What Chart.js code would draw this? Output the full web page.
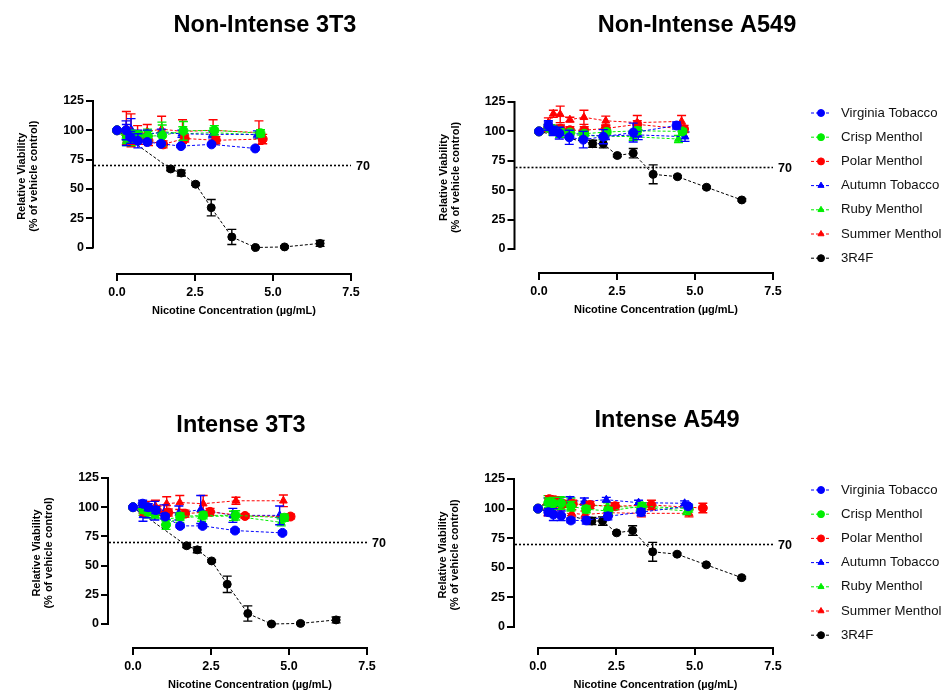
<!DOCTYPE html>
<html lang="en">
<head>
  <meta charset="UTF-8">
  <title>Relative Viability</title>
  <script src="https://cdn.jsdelivr.net/npm/chart.js@4.4.2/dist/chart.umd.min.js"></script>
  <style>
    body { margin: 0; background: #fff; width: 951px; height: 693px; position: relative; overflow: hidden; }
    canvas { position: absolute; }
  </style>
</head>
<body>
  <canvas id="c1" width="400" height="335" style="left:0;top:0"></canvas>
  <canvas id="c2" width="551" height="335" style="left:400px;top:0"></canvas>
  <canvas id="c3" width="400" height="353" style="left:0;top:340px"></canvas>
  <canvas id="c4" width="551" height="353" style="left:400px;top:340px"></canvas>
  <script>
    // ---- data ----
    const seriesNames = ['Virginia Tobacco', 'Crisp Menthol', 'Polar Menthol', 'Autumn Tobacco', 'Ruby Menthol', 'Summer Menthol', '3R4F'];
    const xTicks = [0, 2.5, 5, 7.5];
    const yTicks = [0, 25, 50, 75, 100, 125];
    const threshold = 70;

    // rows follow seriesNames (first six products)
    const nonIntense3T3Dose = [
      [0, 0.29, 0.44, 0.67, 0.97, 1.41, 2.05, 3.03, 4.43],
      [0, 0.31, 0.46, 0.68, 0.99, 1.45, 2.13, 3.12, 4.60],
      [0, 0.32, 0.47, 0.69, 1.01, 1.48, 2.17, 3.17, 4.67],
      [0, 0.30, 0.45, 0.66, 0.97, 1.42, 2.08, 3.06, 4.50],
      [0, 0.31, 0.46, 0.67, 0.98, 1.44, 2.11, 3.10, 4.56],
      [0, 0.30, 0.45, 0.66, 0.97, 1.43, 2.10, 3.08, 4.55]
    ];
    const nonIntense3T3Viab = [
      [100, 100, 94, 91, 90, 88.5, 86.5, 88, 84.5],
      [100, 93, 95, 96, 95, 95.5, 99.5, 100, 97.5],
      [100, 96, 93, 92, 91, 88, 93, 91.5, 92.5],
      [100, 96, 101, 96, 97, 98, 97, 96.5, 96.5],
      [100, 91, 92, 95, 96, 99, 97, 98, 96],
      [100, 102, 100, 97, 99, 101, 99, 100, 98]
    ];
    const nonIntense3T3Sem = [
      [0, 8, 5, 6, 2, 1.5, 1, 1, 1],
      [0, 4, 5, 3, 4, 9, 8, 4, 3],
      [0, 6, 5, 4, 4, 3, 3, 3, 4],
      [0, 9, 9, 4, 3, 3, 3, 3, 3],
      [0, 4, 5, 4, 5, 8, 6, 4, 3],
      [0, 14, 14, 7, 6, 11, 10, 9, 10]
    ];

    const nonIntenseA549Dose = [
      [0, 0.30, 0.46, 0.65, 0.97, 1.42, 2.06, 3.02, 4.41],
      [0, 0.30, 0.46, 0.68, 0.99, 1.45, 2.17, 3.15, 4.60],
      [0, 0.30, 0.46, 0.69, 0.99, 1.45, 2.14, 3.15, 4.65],
      [0, 0.30, 0.46, 0.68, 0.99, 1.45, 2.13, 3.18, 4.68],
      [0, 0.29, 0.44, 0.66, 0.96, 1.40, 2.06, 3.02, 4.47],
      [0, 0.30, 0.46, 0.68, 0.99, 1.44, 2.14, 3.15, 4.57]
    ];
    const nonIntenseA549Viab = [
      [100, 105, 100.5, 98.5, 95, 93, 95.5, 99, 105],
      [100, 103, 102, 100, 99, 98, 99.5, 100.5, 100],
      [100, 103, 102, 102.5, 101, 101, 102.5, 106, 102],
      [100, 104, 101, 100, 99, 97, 96, 97, 95.5],
      [100, 103, 100, 98, 97.5, 96.5, 96, 95.5, 93.5],
      [100, 107.5, 115, 114.5, 110, 112, 109, 107.5, 108.5]
    ];
    const nonIntenseA549Sem = [
      [0, 4, 4, 5, 6, 7, 6, 8, 3],
      [0, 2, 2, 2, 2, 2, 2, 3, 2],
      [0, 3, 3, 3, 3, 3, 3, 3, 3],
      [0, 4, 3, 3, 3, 3, 3, 4, 4],
      [0, 3, 3, 3, 3, 3, 3, 3, 3],
      [0, 4, 3, 7, 2, 6, 4, 6, 5]
    ];

    const intense3T3Dose = [
      [0, 0.31, 0.49, 0.73, 1.03, 1.51, 2.23, 3.27, 4.79],
      [0, 0.33, 0.49, 0.71, 1.06, 1.51, 2.25, 3.29, 4.85],
      [0, 0.35, 0.52, 0.77, 1.13, 1.67, 2.47, 3.59, 5.05],
      [0, 0.32, 0.47, 0.70, 1.00, 1.47, 2.17, 3.20, 4.70],
      [0, 0.32, 0.48, 0.70, 1.04, 1.50, 2.20, 3.22, 4.75],
      [0, 0.32, 0.48, 0.72, 1.08, 1.50, 2.25, 3.30, 4.82]
    ];
    const intense3T3Viab = [
      [100, 103, 100, 97.5, 92, 84, 84, 80, 78],
      [100, 98, 96, 95, 85, 92, 93, 93, 91],
      [100, 96, 97, 97, 95.5, 94.5, 96, 92.5, 92],
      [100, 93, 97, 97, 96, 95, 98, 93, 93],
      [100, 96, 95, 94, 90, 91, 92, 92.5, 87],
      [100, 98, 100, 101, 103, 104, 103, 105.5, 105.5]
    ];
    const intense3T3Sem = [
      [0, 3, 3, 3, 2, 1.5, 1.5, 1.5, 1.5],
      [0, 3, 3, 4, 4, 3, 3, 4, 3],
      [0, 3, 4, 4, 3, 3, 3, 2, 2],
      [0, 5, 6, 8, 6, 6, 12, 6, 8],
      [0, 3, 4, 4, 5, 4, 4, 4, 3],
      [0, 3, 5, 5, 6, 6, 7, 3, 5]
    ];

    const intenseA549Dose = [
      [0, 0.33, 0.49, 0.74, 1.05, 1.54, 2.23, 3.29, 4.79],
      [0, 0.33, 0.49, 0.74, 1.05, 1.54, 2.25, 3.32, 4.81],
      [0, 0.36, 0.54, 0.78, 1.11, 1.66, 2.46, 3.62, 5.26],
      [0, 0.32, 0.47, 0.69, 1.02, 1.48, 2.18, 3.21, 4.68],
      [0, 0.32, 0.48, 0.71, 1.05, 1.52, 2.22, 3.26, 4.75],
      [0, 0.32, 0.48, 0.72, 1.08, 1.50, 2.25, 3.30, 4.82]
    ];
    const intenseA549Viab = [
      [100, 97, 95, 94, 90, 90, 93.5, 97, 102],
      [100, 105, 104.5, 104.5, 102, 99.5, 98, 102, 100],
      [100, 108, 107, 104, 104, 103, 102, 103, 100.5],
      [100, 106, 106, 105, 107, 106, 107.5, 105, 104.5],
      [100, 107, 106, 105, 104, 103, 102, 101, 98],
      [100, 97, 98, 96, 96, 95, 96.5, 96, 96]
    ];
    const intenseA549Sem = [
      [0, 3, 5, 4, 2, 3, 3, 3, 2],
      [0, 4, 5, 5, 4, 3, 3, 3, 3],
      [0, 3, 3, 3, 3, 3, 3, 4, 4],
      [0, 3, 3, 3, 3, 3, 2, 2, 2],
      [0, 4, 4, 5, 5, 3, 3, 3, 3],
      [0, 3, 3, 3, 3, 3, 3, 3, 3]
    ];

    // 3R4F reference cigarette, same in both 3T3 panels / both A549 panels
    const ref3T3Dose = [0, 1.72, 2.06, 2.52, 3.02, 3.68, 4.44, 5.37, 6.51];
    const ref3T3Viab = [100, 67, 63.5, 54, 34, 9, 0, 0.5, 3.5];
    const ref3T3Sem = [0, 1.5, 2.5, 1, 7, 6.5, 0.5, 1, 2.5];
    const refA549Dose = [0, 1.72, 2.06, 2.51, 3.02, 3.66, 4.44, 5.37, 6.50];
    const refA549Viab = [100, 89.5, 89.5, 79.5, 81.5, 63.5, 61.5, 52.5, 41.7];
    const refA549Sem = [0, 3, 3.5, 1, 4, 8, 1, 1, 1];

    // ---- styles / layout ----
    const seriesColors = ['#0000ff', '#00ee00', '#ff0000', '#0000ff', '#00ee00', '#ff0000', '#000000'];
    const seriesMarkers = ['circle', 'circle', 'circle', 'triangle', 'triangle', 'triangle', 'circle'];
    const FONT = "'Liberation Sans', Arial, Helvetica, sans-serif";
    const Y_W = 80, X_H = 30;
    Chart.defaults.font.family = FONT;
    Chart.defaults.color = '#000';

    // page coordinates of the axes for each panel
    const panels = [
      { id: 'c1', left: 0, top: 0, w: 400, h: 335, axisX: 93, x0: 117, x75: 351, y125: 101, y0: 247.5, axisY: 274,
        title: 'Non-Intense 3T3', titleX: 265, titleY: 26, legendY: null },
      { id: 'c2', left: 400, top: 0, w: 551, h: 335, axisX: 514.5, x0: 539, x75: 773, y125: 102, y0: 249, axisY: 273,
        title: 'Non-Intense A549', titleX: 697, titleY: 26, legendY: 113 },
      { id: 'c3', left: 0, top: 340, w: 400, h: 353, axisX: 108, x0: 133, x75: 367, y125: 478, y0: 624, axisY: 648,
        title: 'Intense 3T3', titleX: 241, titleY: 426, legendY: null },
      { id: 'c4', left: 400, top: 340, w: 551, h: 353, axisX: 514, x0: 538, x75: 773, y125: 479, y0: 627, axisY: 648,
        title: 'Intense A549', titleX: 667, titleY: 421, legendY: 490 }
    ];

    function decor(p) {
      return {
        id: 'panelDecor',
        beforeDatasetsDraw(chart) {
          const { ctx, chartArea, scales: { x, y } } = chart;
          ctx.save();
          ctx.strokeStyle = '#000';
          ctx.lineWidth = 2;
          ctx.beginPath();
          ctx.moveTo(chartArea.left, y.getPixelForValue(0) + 1);
          ctx.lineTo(chartArea.left, y.getPixelForValue(125) - 1);
          ctx.moveTo(x.getPixelForValue(0) - 1, chartArea.bottom);
          ctx.lineTo(x.getPixelForValue(7.5) + 1, chartArea.bottom);
          ctx.stroke();
          // 70% line
          const ty = Math.round(y.getPixelForValue(threshold)) + 0.5;
          ctx.lineWidth = 1.6;
          ctx.setLineDash([2, 2]);
          ctx.beginPath();
          ctx.moveTo(chartArea.left + 1, ty);
          ctx.lineTo(x.getPixelForValue(7.5), ty);
          ctx.stroke();
          ctx.setLineDash([]);
          ctx.fillStyle = '#000';
          ctx.font = 'bold 12.5px ' + FONT;
          ctx.textAlign = 'left';
          ctx.textBaseline = 'middle';
          ctx.fillText(String(threshold), x.getPixelForValue(7.5) + 5, ty + 1);
          ctx.restore();
        },
        beforeDatasetDraw(chart, args) {
          const ds = chart.data.datasets[args.index];
          const { ctx, scales: { y } } = chart;
          ctx.save();
          ctx.strokeStyle = ds.borderColor;
          ctx.lineWidth = 1.4;
          args.meta.data.forEach((pt, k) => {
            const e = ds.errors[k];
            if (!e) return;
            const v = ds.data[k].y;
            const t = y.getPixelForValue(v + e), b = y.getPixelForValue(v - e);
            ctx.beginPath();
            ctx.moveTo(pt.x, t); ctx.lineTo(pt.x, b);
            ctx.moveTo(pt.x - 4.5, t); ctx.lineTo(pt.x + 4.5, t);
            ctx.moveTo(pt.x - 4.5, b); ctx.lineTo(pt.x + 4.5, b);
            ctx.stroke();
          });
          ctx.restore();
        },
        afterDraw(chart) {
          const { ctx, chartArea, scales: { x, y } } = chart;
          ctx.save();
          ctx.fillStyle = '#000';
          ctx.textAlign = 'center';
          ctx.textBaseline = 'middle';
          ctx.font = 'bold 23.5px ' + FONT;
          ctx.fillText(p.title, p.titleX - p.left, p.titleY - p.top);
          ctx.font = 'bold 11px ' + FONT;
          ctx.fillText('Nicotine Concentration (\u00b5g/mL)', x.getPixelForValue(3.75), chartArea.bottom + 37);
          const cy = (y.getPixelForValue(0) + y.getPixelForValue(125)) / 2 + 2;
          ctx.save();
          ctx.translate(chartArea.left - 71, cy);
          ctx.rotate(-Math.PI / 2);
          ctx.fillText('Relative Viability', 0, 0);
          ctx.restore();
          ctx.save();
          ctx.translate(chartArea.left - 59, cy);
          ctx.rotate(-Math.PI / 2);
          ctx.fillText('(% of vehicle control)', 0, 0);
          ctx.restore();

          if (p.legendY !== null) {
            chart.data.datasets.forEach((ds, i) => {
              const ly = p.legendY - p.top + i * 24.2;
              const lx = 811 - p.left;
              ctx.strokeStyle = ds.borderColor;
              ctx.fillStyle = ds.borderColor;
              ctx.lineWidth = 1;
              ctx.setLineDash([3, 2]);
              ctx.beginPath();
              ctx.moveTo(lx, ly); ctx.lineTo(lx + 20, ly);
              ctx.stroke();
              ctx.setLineDash([]);
              Chart.helpers.drawPoint(ctx, { pointStyle: ds.pointStyle, radius: 3.5, borderWidth: 1, rotation: 0 }, lx + 10, ly);
              ctx.fillStyle = '#111';
              ctx.font = '13.2px ' + FONT;
              ctx.textAlign = 'left';
              ctx.fillText(ds.label, 841 - p.left, ly);
            });
          }
          ctx.restore();
        }
      };
    }

    function makeChart(p, dose, viab, sem) {
      const pxX = (p.x75 - p.x0) / 7.5;
      const pxY = (p.y0 - p.y125) / 125;
      const datasets = seriesNames.map((name, i) => ({
        label: name,
        data: dose[i].map((d, k) => ({ x: d, y: viab[i][k] })),
        errors: sem[i],
        showLine: true,
        borderColor: seriesColors[i],
        backgroundColor: seriesColors[i],
        borderWidth: 1,
        borderDash: [3, 2],
        pointStyle: seriesMarkers[i],
        pointRadius: i === 6 ? 4 : 4.5,
        pointBorderWidth: 1,
        clip: false
      }));
      const tickFont = { size: 12.5, weight: 'bold' };
      new Chart(document.getElementById(p.id), {
        type: 'scatter',
        data: { datasets },
        options: {
          responsive: false,
          animation: false,
          events: [],
          layout: {
            padding: {
              left: p.axisX - p.left - Y_W,
              right: p.left + p.w - p.x75,
              top: p.y125 - p.top,
              bottom: p.top + p.h - p.axisY - X_H
            }
          },
          scales: {
            x: {
              type: 'linear',
              min: -(p.x0 - p.axisX) / pxX,
              max: 7.5,
              afterBuildTicks: s => { s.ticks = xTicks.map(v => ({ value: v })); },
              afterFit: s => { s.height = X_H; },
              ticks: { callback: v => v.toFixed(1), font: tickFont, padding: 4, maxRotation: 0, autoSkip: false, color: '#000' },
              grid: { drawOnChartArea: false, tickLength: 7, lineWidth: 2, color: '#000' },
              border: { display: false }
            },
            y: {
              type: 'linear',
              min: -(p.axisY - p.y0) / pxY,
              max: 125,
              afterBuildTicks: s => { s.ticks = yTicks.map(v => ({ value: v })); },
              afterFit: s => { s.width = Y_W; },
              ticks: { font: tickFont, padding: 2, color: '#000' },
              grid: { drawOnChartArea: false, tickLength: 7, lineWidth: 2, color: '#000' },
              border: { display: false }
            }
          },
          plugins: { legend: { display: false }, tooltip: { enabled: false } }
        },
        plugins: [decor(p)]
      });
    }

    const withRef = (rows, ref) => rows.concat([ref]);
    makeChart(panels[0],
      withRef(nonIntense3T3Dose, ref3T3Dose), withRef(nonIntense3T3Viab, ref3T3Viab), withRef(nonIntense3T3Sem, ref3T3Sem));
    makeChart(panels[1],
      withRef(nonIntenseA549Dose, refA549Dose), withRef(nonIntenseA549Viab, refA549Viab), withRef(nonIntenseA549Sem, refA549Sem));
    makeChart(panels[2],
      withRef(intense3T3Dose, ref3T3Dose), withRef(intense3T3Viab, ref3T3Viab), withRef(intense3T3Sem, ref3T3Sem));
    makeChart(panels[3],
      withRef(intenseA549Dose, refA549Dose), withRef(intenseA549Viab, refA549Viab), withRef(intenseA549Sem, refA549Sem));
  </script>
</body>
</html>
